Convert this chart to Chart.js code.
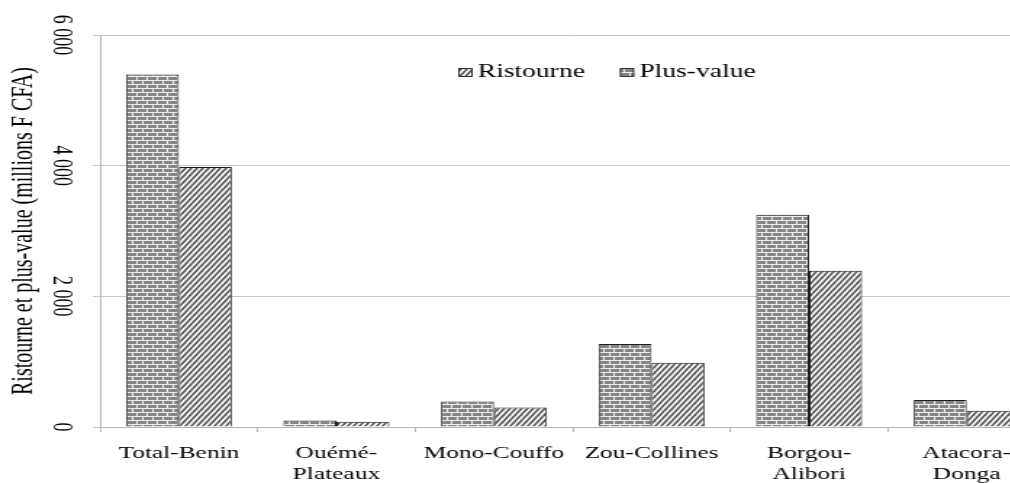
<!DOCTYPE html>
<html><head><meta charset="utf-8">
<script src="https://cdn.jsdelivr.net/npm/chart.js@4.4.1/dist/chart.umd.min.js"></script>
<style>
html,body{margin:0;padding:0;overflow:hidden;background:#fff;width:1010px;height:483px}
#wrap{position:absolute;left:0;top:0;width:721px;height:483px;transform:scaleX(1.45);transform-origin:0 0}
</style></head>
<body><div id="wrap"><canvas id="c" width="721" height="483"></canvas></div>
<script>
const categories = ['Total-Benin', ['Ouémé-', 'Plateaux'], 'Mono-Couffo', 'Zou-Collines', ['Borgou-', 'Alibori'], ['Atacora-', 'Donga']];
const plusValue = [5395, 100, 390, 1270, 3250, 413];
const ristourne = [3978, 82, 300, 984, 2393, 250];
const yTickValues = [0, 2000, 4000, 6000];
const yTickLabels = ['0', '2 000', '4 000', '6 000'];
const yTitle = 'Ristourne et plus-value (millions F CFA)';

function brickPattern() {
  const t = document.createElement('canvas'); t.width = 7; t.height = 8;
  const g = t.getContext('2d');
  g.fillStyle = '#858585'; g.fillRect(0, 0, 7, 8);
  g.fillStyle = '#ececec';
  g.fillRect(0, 0, 7, 1); g.fillRect(0, 4, 7, 1);
  g.fillRect(0, 0, 1, 4); g.fillRect(3, 4, 1, 4);
  return g.createPattern(t, 'repeat');
}
function diagPattern() {
  const w = 4, h = 6;
  const t = document.createElement('canvas'); t.width = w; t.height = h;
  const g = t.getContext('2d');
  g.fillStyle = '#ffffff'; g.fillRect(0, 0, w, h);
  g.strokeStyle = '#555555'; g.lineWidth = 1.6;
  for (let k = -2; k <= 2; k++) {
    g.beginPath(); g.moveTo(k * w - w, 2 * h); g.lineTo(k * w + 2 * w, -h); g.stroke();
  }
  return g.createPattern(t, 'repeat');
}

const FONT = '"Liberation Serif", "Times New Roman", serif';

const customDraw = {
  id: 'customDraw',
  afterDraw(chart) {
    const ctx = chart.ctx, y = chart.scales.y;
    ctx.save();
    ctx.fillStyle = '#000';
    ctx.font = '18px ' + FONT;
    ctx.textAlign = 'center';
    ctx.textBaseline = 'middle';
    y.ticks.forEach(t => {
      const idx = yTickValues.indexOf(t.value);
      if (idx < 0) return;
      const py = y.getPixelForValue(t.value);
      ctx.save();
      ctx.translate(42, py);
      ctx.rotate(Math.PI / 2);
      ctx.fillText(yTickLabels[idx], 0, 0);
      ctx.restore();
    });
    // legend (Ristourne first, then Plus-value)
    const order = [1, 0];
    let x = 316; const cy = 72;
    ctx.font = '19px ' + FONT;
    ctx.textAlign = 'left';
    order.forEach(i => {
      const ds = chart.data.datasets[i];
      ctx.fillStyle = ds.backgroundColor;
      ctx.fillRect(x, cy - 4, 10, 9);
      ctx.strokeStyle = '#333'; ctx.lineWidth = 1;
      ctx.strokeRect(x + 0.5, cy - 3.5, 9, 8);
      ctx.fillStyle = '#000';
      ctx.fillText(ds.label, x + 13.5, cy);
      x += 13.5 + ctx.measureText(ds.label).width + 24;
    });
    ctx.restore();
  }
};

const ctx = document.getElementById('c').getContext('2d');
new Chart(ctx, {
  type: 'bar',
  data: {
    labels: categories,
    datasets: [
      { label: 'Plus-value', data: plusValue, backgroundColor: brickPattern(), borderColor: '#1e1e1e', borderWidth: 1 },
      { label: 'Ristourne', data: ristourne, backgroundColor: diagPattern(), borderColor: '#1e1e1e', borderWidth: 1 }
    ]
  },
  options: {
    responsive: false,
    animation: false,
    devicePixelRatio: 1,
    layout: { padding: { top: 35, left: 0, right: 0, bottom: 0 } },
    datasets: { bar: { categoryPercentage: 0.672, barPercentage: 1 } },
    plugins: { legend: { display: false }, tooltip: { enabled: false } },
    scales: {
      x: {
        grid: { display: true, drawOnChartArea: false, drawTicks: true, tickLength: 5, offset: true, color: '#b5b5b5' },
        border: { display: true, color: '#b5b5b5', width: 1 },
        ticks: { autoSkip: false, maxRotation: 0, minRotation: 0, padding: 11, color: '#000', font: { family: FONT, size: 17.5 } },
        afterFit(scale) { scale.height = 56; }
      },
      y: {
        min: 0, max: 6000,
        ticks: { stepSize: 2000, display: false },
        grid: { color: '#c8c8c8', tickLength: 5, drawTicks: true },
        border: { display: true, color: '#b5b5b5', width: 1 },
        title: { display: true, text: yTitle, color: '#000', font: { family: FONT, size: 20 }, padding: { top: 5, bottom: 0 } },
        afterFit(scale) { scale.width = 69; }
      }
    }
  },
  plugins: [customDraw]
});
</script>
</body></html>
